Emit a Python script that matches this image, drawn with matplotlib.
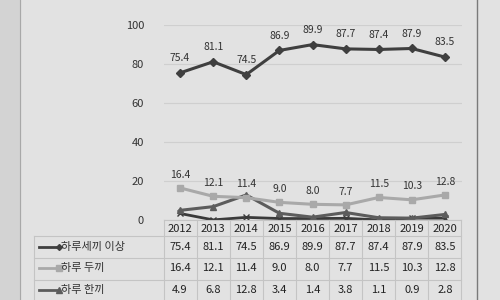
import matplotlib.pyplot as plt
from matplotlib.lines import Line2D

plt.rcParams['font.family'] = ['Noto Sans CJK KR', 'DejaVu Sans']

years = ["2012", "2013", "2014", "2015", "2016", "2017", "2018", "2019", "2020"]
three_meals = [75.4, 81.1, 74.5, 86.9, 89.9, 87.7, 87.4, 87.9, 83.5]
two_meals = [16.4, 12.1, 11.4, 9.0, 8.0, 7.7, 11.5, 10.3, 12.8]
one_meal = [4.9, 6.8, 12.8, 3.4, 1.4, 3.8, 1.1, 0.9, 2.8]
no_meal = [3.3, 0.0, 1.3, 0.7, 0.7, 0.8, 0.0, 0.9, 0.9]

series = [
    ("하루세끼 이상", three_meals, "#3f3f3f", "D", 4),
    ("하루 두끼", two_meals, "#a9a9a9", "s", 5),
    ("하루 한끼", one_meal, "#5c5c5c", "^", 5),
]

fig = plt.figure(figsize=(5, 3), dpi=100, facecolor="#e2e2e2")
# page edge on the left
fig.patches.append(plt.Rectangle((0, 0), 0.04, 1, transform=fig.transFigure,
                                 color="#d3d3d3", zorder=0))
fig.add_artist(Line2D([0.04, 0.04], [0, 1], transform=fig.transFigure,
                      color="#a8a8a8", lw=0.8))
ax = fig.add_axes([0.327, 0.267, 0.596, 0.65])
ax.set_facecolor("none")

x = list(range(len(years)))
ax.plot(x, no_meal, color="#3a3a3a", marker="x", markersize=5, linewidth=2)
for name, vals, color, mk, ms in series[::-1]:
    ax.plot(x, vals, color=color, marker=mk, markersize=ms, linewidth=2.2)

for i, v in enumerate(three_meals):
    ax.annotate(f"{v:.1f}", (i, v), xytext=(0, 7), textcoords="offset points",
                ha="center", va="bottom", fontsize=7.5, color="#333333")
for i, v in enumerate(two_meals):
    ax.annotate(f"{v:.1f}", (i, v), xytext=(0, 6), textcoords="offset points",
                ha="center", va="bottom", fontsize=7.5, color="#333333")

ax.set_xlim(-0.5, len(years) - 0.5)
ax.set_ylim(0, 100)
ax.set_yticks(range(0, 101, 20))
ax.tick_params(axis="y", length=0, labelsize=8, colors="#333333", pad=14)
ax.set_xticks([])
ax.grid(axis="y", color="#cfcfcf", linewidth=0.8)
ax.set_axisbelow(True)
for s in ax.spines.values():
    s.set_visible(False)

# data table under the chart
tr = ax.get_xaxis_transform()
row_h = 0.112
grid_c = "#c4c4c4"
left = -4.4
for k in range(5):
    yy = -k * row_h + (0.0 if k == 0 else 0.03)
    x0 = -0.5 if k == 0 else left
    ax.plot([x0, 8.5], [yy, yy], transform=tr, color=grid_c, lw=0.8, clip_on=False)
for xv in [i - 0.5 for i in range(10)]:
    ax.plot([xv, xv], [0, -4 * row_h], transform=tr, color=grid_c, lw=0.8, clip_on=False)
ax.plot([left, left], [-row_h + 0.03, -4 * row_h], transform=tr, color=grid_c,
        lw=0.8, clip_on=False)

for i, yr in enumerate(years):
    ax.text(i, -0.045, yr, transform=tr, ha="center", va="center", fontsize=8,
            color="#222222")

for r, (name, vals, color, mk, ms) in enumerate(series):
    yc = -row_h * (r + 1) - 0.025
    ax.add_line(Line2D([left + 0.15, left + 0.75], [yc, yc], transform=tr,
                       color=color, lw=2, marker=mk, markevery=[1],
                       markersize=ms - 1, clip_on=False))
    ax.text(left + 0.8, yc, name, transform=tr, ha="left", va="center",
            fontsize=8, color="#333333")
    for i, v in enumerate(vals):
        ax.text(i, yc, f"{v:.1f}", transform=tr, ha="center", va="center",
                fontsize=8, color="#222222")

# right border of the figure box
fig.add_artist(Line2D([0.954, 0.954], [0, 1], transform=fig.transFigure,
                      color="#7a7a7a", lw=1))

fig.savefig("out.png", dpi=100, facecolor=fig.get_facecolor())
